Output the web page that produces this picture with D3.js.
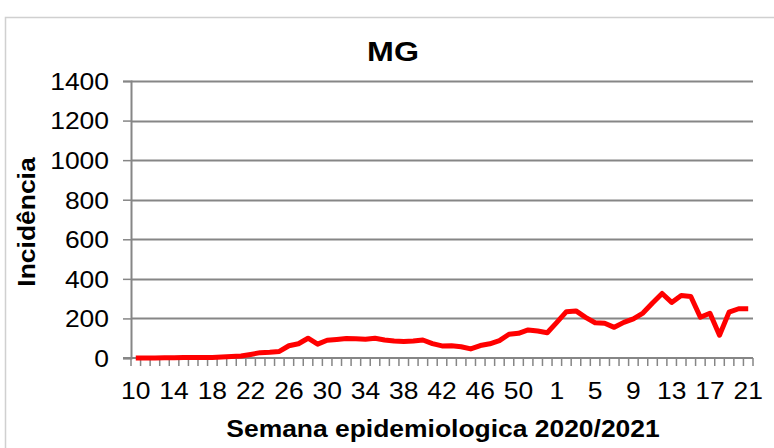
<!DOCTYPE html>
<html>
<head>
<meta charset="utf-8">
<script src="https://cdn.jsdelivr.net/npm/d3@7"></script>
<style>
  body { margin: 0; background: #fff; }
  svg text { font-family: "Liberation Sans", Arial, sans-serif; fill: #000; }
</style>
</head>
<body>
<div id="chart"></div>
<script>
// weeks 10..53 of 2020, then 1..21 of 2021
const weeks2020 = d3.range(10, 54);
const weeks2021 = d3.range(1, 22);
const weekLabels = weeks2020.map(String).concat(weeks2021.map(String));

const incidence = [
  0, 0, 0, 1, 1, 2, 2, 2, 3, 5,
  7, 10, 18, 27, 29, 33, 62, 72, 100, 70,
  90, 94, 98, 97, 95, 100, 91, 86, 84, 86,
  91, 73, 61, 62, 57, 46, 63, 72, 88, 120,
  125, 142, 136, 128, 180, 234, 238, 205, 178, 176,
  155, 180, 198, 227, 278, 326, 281, 316, 311, 206,
  226, 115, 232, 249, 249
];

const yTicks = [0, 200, 400, 600, 800, 1000, 1200, 1400];

const width = 774;
const height = 448;
const margin = { left: 131, right: 21, top: 81, bottom: 90 };
const stretch = 1.15; // the source text is drawn a bit wide

const svg = d3.select("#chart")
  .append("svg")
  .attr("width", width)
  .attr("height", height);

// outer chart frame
svg.append("rect")
  .attr("x", 5.5)
  .attr("y", 17.5)
  .attr("width", width + 10)
  .attr("height", height + 10)
  .attr("fill", "none")
  .attr("stroke", "#d0d0d0")
  .attr("stroke-width", 1.5);

const x = d3.scaleBand()
  .domain(d3.range(weekLabels.length))
  .range([margin.left, width - margin.right]);

const y = d3.scaleLinear()
  .domain([0, 1400])
  .range([height - margin.bottom, margin.top]);

// gridlines
svg.append("g")
  .attr("class", "grid")
  .selectAll("line")
  .data(yTicks.filter(d => d > 0))
  .join("line")
  .attr("x1", margin.left)
  .attr("x2", width - margin.right)
  .attr("y1", d => Math.round(y(d)) + 0.5)
  .attr("y2", d => Math.round(y(d)) + 0.5)
  .attr("stroke", "#868686")
  .attr("stroke-width", 2);

// y axis
const yAxis = d3.axisLeft(y)
  .tickValues(yTicks)
  .tickFormat(d3.format("d"))
  .tickSize(8)
  .tickPadding(14);
const gy = svg.append("g")
  .attr("transform", "translate(" + margin.left + ",0)")
  .call(yAxis);
gy.select(".domain").attr("stroke", "#868686").attr("stroke-width", 2);
gy.selectAll(".tick line").attr("stroke", "#868686").attr("stroke-width", 1.5);
gy.selectAll(".tick text")
  .style("font-size", "23px")
  .attr("x", null)
  .attr("dy", "0.36em")
  .attr("transform", "translate(-22,0) scale(" + stretch + ",1)");

// x axis: tick marks between categories, labels every 4 weeks
const xBase = y(0);
const gx = svg.append("g").attr("class", "x axis");
gx.append("line")
  .attr("x1", margin.left - 8)
  .attr("x2", width - margin.right)
  .attr("y1", xBase)
  .attr("y2", xBase)
  .attr("stroke", "#868686")
  .attr("stroke-width", 2);

const boundaries = d3.range(weekLabels.length + 1).map(i =>
  margin.left + i * x.step());
gx.selectAll("line.tick")
  .data(boundaries)
  .join("line")
  .attr("class", "tick")
  .attr("x1", d => d)
  .attr("x2", d => d)
  .attr("y1", xBase)
  .attr("y2", xBase + 8)
  .attr("stroke", "#868686")
  .attr("stroke-width", 1.5);

gx.selectAll("text")
  .data(weekLabels.map((d, i) => ({ label: d, i })).filter(d => d.i % 4 === 0))
  .join("text")
  .attr("transform", d =>
    "translate(" + (x(d.i) + x.bandwidth() / 2) + ",399) scale(" + stretch + ",1)")
  .attr("text-anchor", "middle")
  .style("font-size", "23px")
  .text(d => d.label);

// data line
const line = d3.line()
  .x((d, i) => x(i) + x.bandwidth() / 2)
  .y(d => y(d));

svg.append("path")
  .datum(incidence)
  .attr("d", line)
  .attr("fill", "none")
  .attr("stroke", "#ff0000")
  .attr("stroke-width", 5)
  .attr("stroke-linejoin", "round");

// titles
svg.append("text")
  .attr("transform", "translate(393,61) scale(" + stretch + ",1)")
  .attr("text-anchor", "middle")
  .style("font-size", "28px")
  .style("font-weight", "bold")
  .text("MG");

svg.append("text")
  .attr("transform", "translate(443,437) scale(" + stretch + ",1)")
  .attr("text-anchor", "middle")
  .style("font-size", "23px")
  .style("font-weight", "bold")
  .text("Semana epidemiologica 2020/2021");

svg.append("text")
  .attr("transform", "translate(35,222) rotate(-90) scale(" + stretch + ",1)")
  .attr("text-anchor", "middle")
  .style("font-size", "23px")
  .style("font-weight", "bold")
  .text("Incidência");
</script>
</body>
</html>
